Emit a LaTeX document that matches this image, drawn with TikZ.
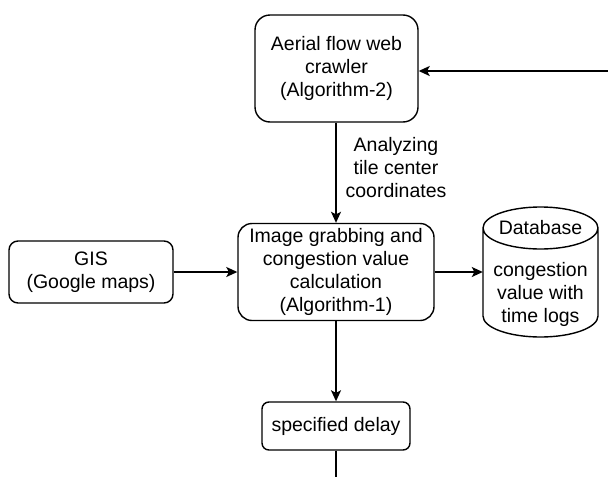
\documentclass[tikz,border=0pt]{standalone}
\usepackage{fontspec}
\setmainfont{Liberation Sans}
\usetikzlibrary{arrows.meta}
\begin{document}
\begin{tikzpicture}[x=1pt,y=-1pt,
  every node/.style={font=\fontsize{19.5}{23}\selectfont, align=center, inner sep=0pt},
  box/.style={draw, line width=1.4pt, rounded corners=#1},
  box/.default=12pt,
  arr/.style={line width=1.4pt, -{Stealth[length=11pt,width=10pt,inset=2.5pt]}},
  ln/.style={line width=1.4pt}]
\useasboundingbox (0,0) rectangle (608,477);
% nodes
\node[box=15pt, minimum width=163pt, minimum height=107pt] (crawler) at (336.5,68.5)
  {Aerial flow web\\crawler\\(Algorithm-2)};
\node[box=9pt, minimum width=164pt, minimum height=62pt] (gis) at (91,272)
  {GIS\\(Google maps)};
\node[box=14pt, minimum width=196pt, minimum height=97pt] (image) at (336,272)
  {Image grabbing and\\congestion value\\calculation\\(Algorithm-1)};
\node[box=7pt, minimum width=148pt, minimum height=48pt] (delay) at (336,426)
  {specified delay};
\node (lbl) at (396,168) {Analyzing\\tile center\\coordinates};
% database cylinder
\draw[ln] (483,228) arc[start angle=180, end angle=360, x radius=57.5pt, y radius=21pt]
  (483,228) arc[start angle=180, end angle=0, x radius=57.5pt, y radius=21pt]
  -- (598,316) arc[start angle=0, end angle=-180, x radius=57.5pt, y radius=21pt] -- cycle;
\node (dbtitle) at (540.5,228) {Database};
\node[minimum width=115pt, minimum height=88pt] (db) at (540.5,294)
  {congestion\\value with\\time logs};
% connectors
\coordinate (rin) at (608,71);
\coordinate (bout) at (336,477);
\draw[arr] (rin) -- (rin -| crawler.east);
\draw[arr] (crawler.south -| image.north) -- (image.north);
\draw[arr] (gis.east) -- (gis.east -| image.west);
\draw[arr] (image.east) -- (image.east -| db.west);
\draw[arr] (image.south) -- (delay.north);
\draw[ln] (delay.south) -- (bout);
\end{tikzpicture}
\end{document}
